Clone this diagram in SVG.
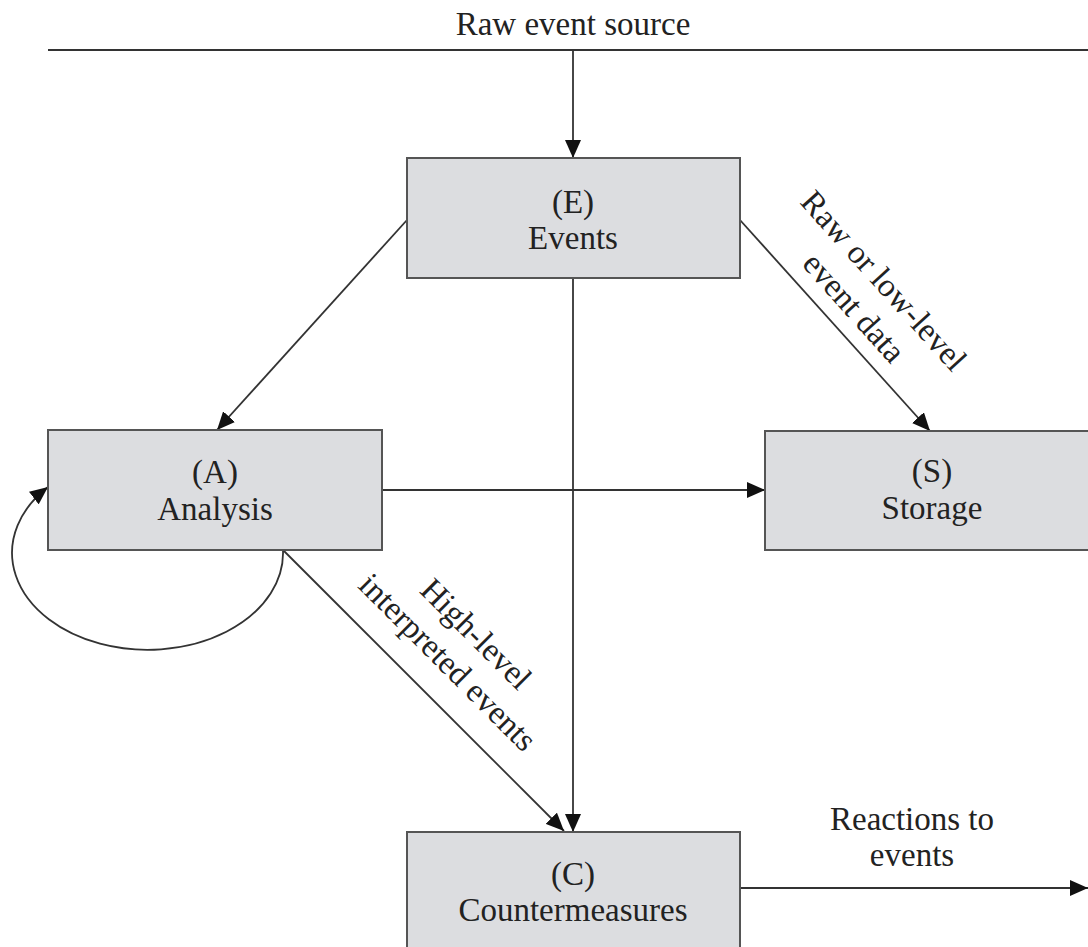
<svg xmlns="http://www.w3.org/2000/svg" width="1088" height="947" viewBox="0 0 1088 947">
<style>
.box{fill:#dcdde0;stroke:#555;stroke-width:2}
.lbl{font-family:"Liberation Serif","Times New Roman",serif;font-size:33px;fill:#222;text-anchor:middle}
.ln{stroke:#333;stroke-width:1.8;fill:none}
.arr{stroke:#333;stroke-width:1.8;fill:none;marker-end:url(#ah)}
</style>
<defs>
<marker id="ah" markerUnits="userSpaceOnUse" markerWidth="18" markerHeight="16" refX="18" refY="8" orient="auto">
<path d="M0,0 L18,8 L0,16 z" fill="#111"/>
</marker>
</defs>
<rect width="1088" height="947" fill="#fff"/>
<g id="connectors">
<line class="ln" x1="48" y1="50" x2="1088" y2="50"/>
<line class="arr" x1="573" y1="50" x2="573" y2="158"/>
<line class="arr" x1="407" y1="220" x2="217" y2="430"/>
<line class="arr" x1="740" y1="220" x2="930" y2="431"/>
<line class="arr" x1="573" y1="278" x2="573" y2="832"/>
<line class="arr" x1="382" y1="490" x2="765" y2="490"/>
<line class="arr" x1="283" y1="550" x2="564" y2="831"/>
<path class="arr" d="M283,550 A135.5,97 0 1 1 48,487"/>
<line class="arr" x1="740" y1="888" x2="1088" y2="888"/>
</g>
<g id="source-label">
<text class="lbl" x="573" y="35">Raw event source</text>
</g>
<g id="node-E">
<rect class="box" x="407" y="158" width="333" height="120"/>
<text class="lbl" x="573" y="213">(E)</text>
<text class="lbl" x="573" y="249">Events</text>
</g>
<g id="node-A">
<rect class="box" x="48" y="430" width="334" height="120"/>
<text class="lbl" x="215" y="483">(A)</text>
<text class="lbl" x="215" y="520">Analysis</text>
</g>
<g id="node-S">
<rect class="box" x="765" y="431" width="340" height="119"/>
<text class="lbl" x="932" y="482">(S)</text>
<text class="lbl" x="932" y="519">Storage</text>
</g>
<g id="node-C">
<rect class="box" x="407" y="832" width="333" height="130"/>
<text class="lbl" x="573" y="885">(C)</text>
<text class="lbl" x="573" y="921">Countermeasures</text>
</g>
<g id="edge-labels">
<text class="lbl" transform="translate(869,294) rotate(48)"><tspan x="0" y="-9">Raw or low-level</tspan><tspan x="0" y="31">event data</tspan></text>
<text class="lbl" transform="translate(462,648) rotate(45)"><tspan x="0" y="-9">High-level</tspan><tspan x="0" y="31">interpreted events</tspan></text>
<text class="lbl" x="912" y="830">Reactions to</text>
<text class="lbl" x="912" y="866">events</text>
</g>
</svg>
